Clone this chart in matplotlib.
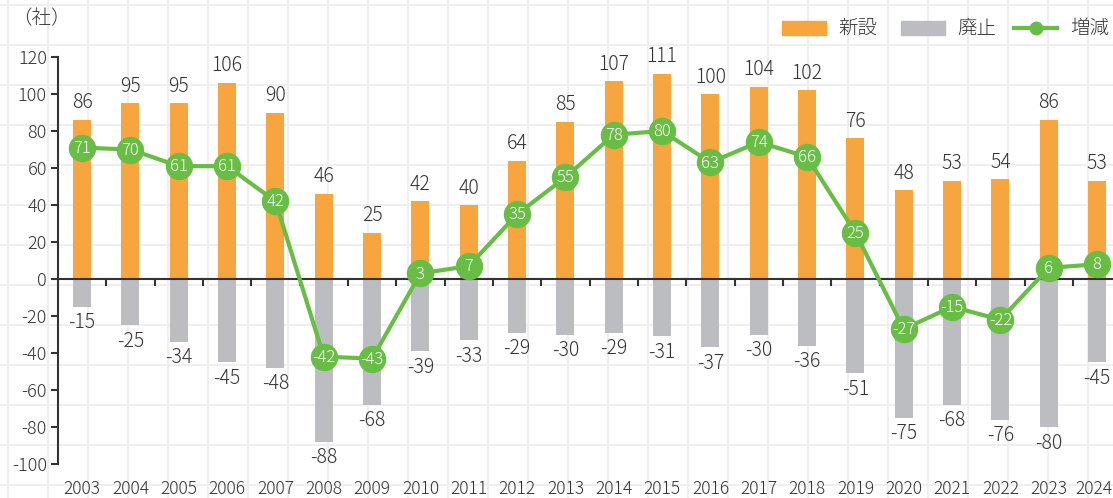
import matplotlib
matplotlib.use("Agg")
import matplotlib.pyplot as plt
from matplotlib.lines import Line2D
from matplotlib.patches import Rectangle
import numpy as np

years = [str(y) for y in range(2003, 2025)]
new = [86, 95, 95, 106, 90, 46, 25, 42, 40, 64, 85, 107, 111, 100, 104, 102, 76, 48, 53, 54, 86, 53]
closed = [-15, -25, -34, -45, -48, -88, -68, -39, -33, -29, -30, -29, -31, -37, -30, -36, -51, -75, -68, -76, -80, -45]
net = [71, 70, 61, 61, 42, -42, -43, 3, 7, 35, 55, 78, 80, 63, 74, 66, 25, -27, -15, -22, 6, 8]
legend_labels = ['新設', '廃止', '増減']

plt.rcParams['font.family'] = ['Noto Sans CJK JP', 'DejaVu Sans']
plt.rcParams['font.weight'] = 'light'
TXT = '#333333'
ORANGE = '#f7a63f'
GRAY = '#bcbdc1'
GREEN = '#68bd45'

W, H = 1113, 498
fig = plt.figure(figsize=(W / 100, H / 100), dpi=100)

def fx(px):
    return px / W

def fy(py):
    return 1 - py / H

# background grid pattern
for gx in np.arange(8, W, 40):
    fig.add_artist(Line2D([fx(gx)] * 2, [0, 1], color='#efefef', lw=1.5, zorder=0))
for gy in np.arange(5, H, 40):
    fig.add_artist(Line2D([0, 1], [fy(gy)] * 2, color='#efefef', lw=1.5, zorder=0))

left, right = 58, 1113
top, bottom = 57, 464
ax = fig.add_axes([fx(left), fy(bottom), (right - left) / W, (bottom - top) / H])
ax.patch.set_alpha(0)

x = np.arange(len(years))
bw = 18 / 48.33
ax.bar(x, new, width=bw, color=ORANGE, zorder=2)
ax.bar(x, closed, width=bw, color=GRAY, zorder=2)
ax.axhline(0, color='#333333', lw=1.5, zorder=3)
for b in np.arange(0.5, len(years) - 0.5, 1):
    ax.plot([b, b], [0, -3], color='#333333', lw=1.5, zorder=3, clip_on=False)

ax.plot(x, net, color=GREEN, lw=3, zorder=4)
ax.scatter(x, net, s=390, color=GREEN, linewidth=0, zorder=5)

for xi, v in zip(x, new):
    ax.text(xi, v + 3.5, str(v), ha='center', va='bottom', fontsize=14, color=TXT, zorder=6)
for xi, v in zip(x, closed):
    ax.text(xi, v - 3, str(v), ha='center', va='top', fontsize=14, color=TXT, zorder=6)
for xi, v in zip(x, net):
    ax.text(xi, v - 0.3, str(v), ha='center', va='center', fontsize=12, color='white', zorder=7)

ax.set_xlim(-0.5, 21.33)
ax.set_ylim(-100, 120)
ax.set_yticks(range(-100, 121, 20))
ax.set_yticklabels([str(v) for v in range(-100, 121, 20)], fontsize=13, color=TXT)
ax.tick_params(axis='y', length=5, width=1.5, color='#333333', pad=3)
ax.set_xticks([])
for s in ['top', 'right', 'bottom']:
    ax.spines[s].set_visible(False)
ax.spines['left'].set_color('#333333')
ax.spines['left'].set_linewidth(1.5)

for xi, y in zip(x, years):
    px = left + (xi + 0.5) * (right - left) / 21.83
    if xi == len(years) - 1:
        fig.text(fx(1112), fy(489), y, ha='right', va='center', fontsize=12.5, color=TXT)
    else:
        fig.text(fx(px), fy(489), y, ha='center', va='center', fontsize=12.5, color=TXT)

fig.text(fx(12), fy(19), '（社）', ha='left', va='center', fontsize=14, color=TXT)

# legend drawn manually
ly = 28
fig.add_artist(Rectangle((fx(782), fy(ly + 7)), fx(826) - fx(782), fy(ly - 7) - fy(ly + 7),
                         transform=fig.transFigure, color=ORANGE))
fig.text(fx(838), fy(ly), legend_labels[0], ha='left', va='center', fontsize=14, color=TXT)
fig.add_artist(Rectangle((fx(901), fy(ly + 7)), fx(945) - fx(901), fy(ly - 7) - fy(ly + 7),
                         transform=fig.transFigure, color=GRAY))
fig.text(fx(957), fy(ly), legend_labels[1], ha='left', va='center', fontsize=14, color=TXT)
fig.add_artist(Line2D([fx(1014), fx(1057)], [fy(ly), fy(ly)], color=GREEN, lw=3))
fig.add_artist(Line2D([fx(1035.5)], [fy(ly)], color=GREEN, marker='o', markersize=9, lw=0))
fig.text(fx(1070), fy(ly), legend_labels[2], ha='left', va='center', fontsize=14, color=TXT)

fig.savefig('out.png', dpi=100)
